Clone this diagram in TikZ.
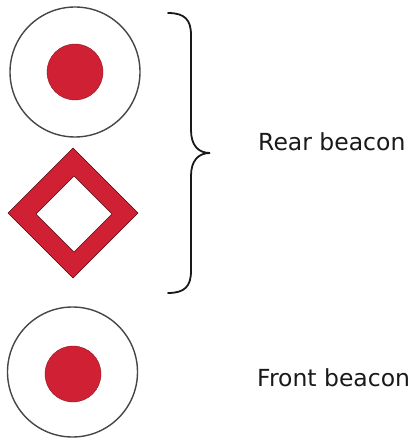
\documentclass[tikz,border=0pt]{standalone}
\usepackage{fontspec}
\setmainfont{DejaVu Sans}
\usetikzlibrary{shapes.geometric,calc}
\definecolor{beaconred}{RGB}{208,32,52}
\definecolor{rimgray}{RGB}{70,70,70}
\tikzset{
  rim/.style={circle, draw=rimgray, line width=1.4pt, fill=white, minimum size=130pt, inner sep=0pt},
  dot/.style={circle, fill=beaconred, draw=beaconred!70!black, line width=0.4pt, minimum size=56pt, inner sep=0pt},
  label/.style={anchor=base west, inner sep=0pt, font=\fontsize{23.5}{28}\selectfont, text=black!90},
  bracestyle/.style={line width=1.8pt, line cap=round, draw=black!90}
}
\begin{document}
\begin{tikzpicture}[x=1pt, y=-1pt]
\useasboundingbox (0,0) rectangle (414,441);
% top circle
\node[rim] (top) at (75,72) {};
\node[dot] (topdot) at (75,72) {};
% diamond
\coordinate (dm) at (73,213);
\fill[beaconred, even odd rule, draw=black!60!beaconred, line width=0.6pt]
  ($(dm)+(0,-65)$) -- ($(dm)+(65,0)$) -- ($(dm)+(0,65)$) -- ($(dm)+(-65,0)$) -- cycle
  ($(dm)+(1,-37)$) -- ($(dm)+(39,1)$) -- ($(dm)+(1,39)$) -- ($(dm)+(-37,1)$) -- cycle;
% bottom circle
\node[rim] (bot) at (72.5,372) {};
\node[dot] (botdot) at (73,374) {};
% brace
\coordinate (btop) at (168,13);
\coordinate (btip) at (210,153);
\coordinate (bbot) at (168,293);
\draw[bracestyle] (btop) .. controls (185,13) and (191,20) .. (191,35) -- (191,130)
  .. controls (191,145) and (198,153) .. (btip)
  .. controls (198,153) and (191,161) .. (191,176) -- (191,271)
  .. controls (191,286) and (185,293) .. (bbot);
% labels
\node[label] (rear) at (258,150) {Rear beacon};
\node[label] (front) at (257,386) {Front beacon};
\end{tikzpicture}
\end{document}
